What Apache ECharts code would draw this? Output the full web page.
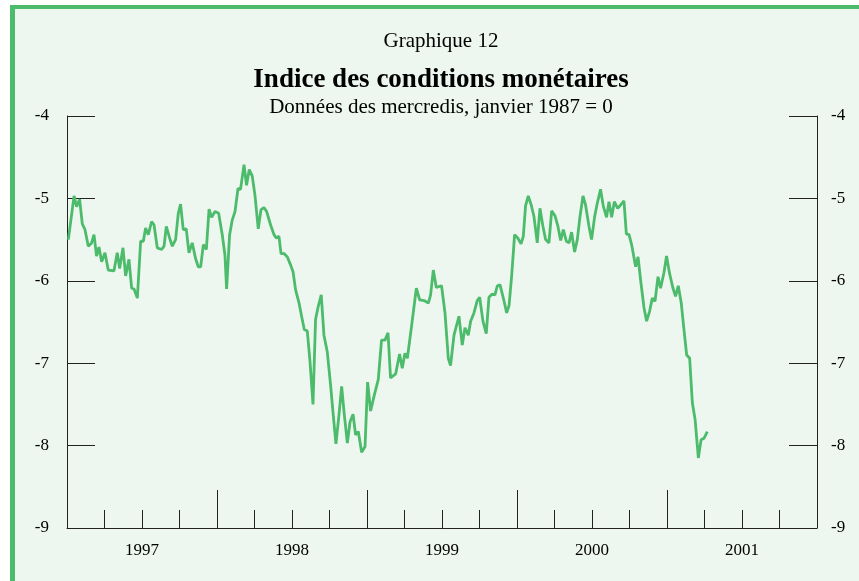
<!DOCTYPE html>
<html>
<head>
<meta charset="utf-8">
<script src="https://cdn.jsdelivr.net/npm/echarts@6/dist/echarts.min.js"></script>
<style>
	html, body { margin: 0; padding: 0; background: #ffffff; }
	#frame {
		position: absolute; left: 10px; top: 5px; width: 900px; height: 620px;
		border: 4px solid #4cbb6b; border-left-width: 5px; background: #edf7ef;
	}
	#chart { position: absolute; left: 0; top: 0; width: 859px; height: 581px; }
</style>
</head>
<body>
<div id="frame"></div>
<div id="chart"></div>
<script>
'use strict';
/**
 * Graphique 12 - Indice des conditions monétaires
 * données hebdomadaires (mercredis), date en année décimale
 */
var dates = [
	1997.009, 1997.047, 1997.064, 1997.084, 1997.102, 1997.120, 1997.142, 1997.164, 1997.180, 1997.197,
	1997.213, 1997.231, 1997.253, 1997.275, 1997.313, 1997.335, 1997.351, 1997.373, 1997.391, 1997.413,
	1997.431, 1997.447, 1997.469, 1997.491, 1997.509, 1997.524, 1997.542, 1997.564, 1997.580, 1997.602,
	1997.631, 1997.647, 1997.662, 1997.684, 1997.702, 1997.724, 1997.742, 1997.757, 1997.775, 1997.795,
	1997.813, 1997.835, 1997.857, 1997.875, 1997.891, 1997.909, 1997.929, 1997.947, 1997.964, 1997.987,
	1998.011, 1998.035, 1998.053, 1998.064, 1998.084, 1998.102, 1998.120, 1998.140, 1998.157, 1998.180,
	1998.197, 1998.215, 1998.235, 1998.253, 1998.275, 1998.293, 1998.313, 1998.331, 1998.357, 1998.380,
	1998.395, 1998.413, 1998.427, 1998.447, 1998.469, 1998.491, 1998.507, 1998.524, 1998.547, 1998.564,
	1998.582, 1998.602, 1998.620, 1998.640, 1998.657, 1998.675, 1998.695, 1998.713, 1998.735, 1998.757,
	1998.775, 1998.793, 1998.813, 1998.831, 1998.849, 1998.869, 1998.887, 1998.907, 1998.924, 1998.942,
	1998.964, 1998.987, 1999.004, 1999.024, 1999.047, 1999.075, 1999.097, 1999.120, 1999.140, 1999.157,
	1999.191, 1999.217, 1999.235, 1999.253, 1999.269, 1999.297, 1999.329, 1999.351, 1999.380, 1999.409,
	1999.424, 1999.442, 1999.462, 1999.497, 1999.520, 1999.542, 1999.557, 1999.580, 1999.613, 1999.635,
	1999.653, 1999.675, 1999.691, 1999.713, 1999.735, 1999.751, 1999.773, 1999.795, 1999.813, 1999.835,
	1999.853, 1999.869, 1999.887, 1999.913, 1999.931, 1999.947, 1999.964, 1999.984, 2000.005, 2000.027,
	2000.042, 2000.057, 2000.075, 2000.095, 2000.113, 2000.135, 2000.153, 2000.173, 2000.191, 2000.213,
	2000.231, 2000.253, 2000.273, 2000.291, 2000.309, 2000.329, 2000.347, 2000.364, 2000.384, 2000.402,
	2000.420, 2000.440, 2000.457, 2000.480, 2000.497, 2000.517, 2000.535, 2000.557, 2000.575, 2000.597,
	2000.613, 2000.631, 2000.649, 2000.671, 2000.691, 2000.713, 2000.729, 2000.747, 2000.764, 2000.791,
	2000.807, 2000.824, 2000.847, 2000.864, 2000.884, 2000.902, 2000.920, 2000.940, 2000.957, 2000.980,
	2000.997, 2001.017, 2001.040, 2001.057, 2001.075, 2001.095, 2001.113, 2001.131, 2001.151, 2001.169,
	2001.187, 2001.209, 2001.227, 2001.247, 2001.269
];
var mci = [
	-5.50, -4.97, -5.10, -5.01, -5.31, -5.38, -5.58, -5.54, -5.44, -5.70,
	-5.59, -5.77, -5.66, -5.87, -5.88, -5.66, -5.85, -5.60, -5.94, -5.74,
	-6.09, -6.10, -6.21, -5.52, -5.52, -5.36, -5.44, -5.28, -5.32, -5.60,
	-5.62, -5.58, -5.34, -5.48, -5.58, -5.50, -5.18, -5.07, -5.38, -5.37,
	-5.66, -5.54, -5.73, -5.83, -5.83, -5.56, -5.62, -5.13, -5.23, -5.16,
	-5.18, -5.44, -5.69, -6.10, -5.44, -5.26, -5.16, -4.88, -4.89, -4.59,
	-4.84, -4.65, -4.73, -4.96, -5.37, -5.14, -5.11, -5.16, -5.32, -5.44,
	-5.48, -5.46, -5.67, -5.67, -5.71, -5.81, -5.89, -6.11, -6.27, -6.43,
	-6.59, -6.61, -6.98, -7.50, -6.47, -6.31, -6.17, -6.66, -6.86, -7.26,
	-7.63, -7.98, -7.63, -7.28, -7.63, -7.97, -7.71, -7.62, -7.87, -7.83,
	-8.08, -8.01, -7.23, -7.58, -7.40, -7.20, -6.72, -6.72, -6.63, -7.18,
	-7.13, -6.89, -7.06, -6.88, -6.94, -6.55, -6.09, -6.23, -6.24, -6.27,
	-6.17, -5.87, -6.08, -6.06, -6.39, -6.94, -7.03, -6.66, -6.43, -6.78,
	-6.57, -6.66, -6.49, -6.39, -6.24, -6.20, -6.49, -6.64, -6.20, -6.16,
	-6.17, -6.06, -6.05, -6.24, -6.39, -6.30, -5.95, -5.44, -5.48, -5.55,
	-5.46, -5.09, -4.97, -5.08, -5.22, -5.54, -5.12, -5.34, -5.50, -5.54,
	-5.15, -5.21, -5.34, -5.51, -5.38, -5.52, -5.54, -5.41, -5.65, -5.50,
	-5.22, -4.97, -5.08, -5.34, -5.50, -5.23, -5.06, -4.89, -5.09, -5.23,
	-5.04, -5.23, -5.04, -5.12, -5.08, -5.03, -5.43, -5.44, -5.56, -5.83,
	-5.71, -5.99, -6.33, -6.49, -6.37, -6.21, -6.25, -5.95, -6.09, -5.90,
	-5.70, -5.91, -6.09, -6.19, -6.06, -6.27, -6.59, -6.90, -6.94, -7.48,
	-7.68, -8.15, -7.93, -7.91, -7.83
];
var yTicks = [-9, -8, -7, -6, -5, -4];

var titleText = 'Graphique 12';
var mainTitle = 'Indice des conditions monétaires';
var subTitle = 'Données des mercredis, janvier 1987 = 0';

var serif = '"Liberation Serif", "DejaVu Serif", serif';
var inkColor = '#222';
var lineColor = '#4cbb6b';

var points = dates.map(function (d, i) { return [d, mci[i]]; });

var myChart = echarts.init(document.getElementById('chart'), null, { renderer: 'canvas' });

function yAxisDef(pos, margin) {
	return {
		type: 'value',
		position: pos,
		min: yTicks[0],
		max: yTicks[yTicks.length - 1],
		interval: 1,
		axisLine: { show: true, lineStyle: { color: inkColor, width: 1 } },
		axisTick: { show: true, inside: true, length: 28, lineStyle: { color: inkColor, width: 1 } },
		axisLabel: { margin: margin, color: '#000', fontFamily: serif, fontSize: 17 },
		splitLine: { show: false }
	};
}

var option = {
	animation: false,
	backgroundColor: 'transparent',
	title: [{
		text: titleText,
		left: 436, top: 26, textAlign: 'center',
		textStyle: { fontFamily: serif, fontSize: 21, fontWeight: 'normal', color: '#000' }
	}, {
		text: mainTitle,
		left: 436, top: 62, textAlign: 'center',
		textStyle: { fontFamily: serif, fontSize: 27, fontWeight: 'bold', color: '#000' }
	}, {
		text: subTitle,
		left: 436, top: 92, textAlign: 'center',
		textStyle: { fontFamily: serif, fontSize: 21, fontWeight: 'normal', color: '#000' }
	}],
	grid: { left: 67, right: 42, top: 116, height: 412, containLabel: false },
	xAxis: [{
		type: 'value',
		position: 'bottom',
		min: 1997, max: 2002, interval: 0.25,
		axisLine: { show: true, onZero: false, lineStyle: { color: inkColor, width: 1 } },
		axisTick: { show: true, inside: true, length: 18, lineStyle: { color: inkColor, width: 1 } },
		axisLabel: {
			margin: 14, color: '#000', fontFamily: serif, fontSize: 17,
			showMinLabel: true, showMaxLabel: true,
			formatter: function (v) {
				return Math.abs(v - Math.floor(v) - 0.5) < 1e-6 ? String(Math.floor(v)) : '';
			}
		},
		splitLine: { show: false }
	}, {
		type: 'value',
		position: 'bottom',
		min: 1997, max: 2002, interval: 1,
		axisLine: { show: false, onZero: false },
		axisTick: { show: true, inside: true, length: 38, lineStyle: { color: inkColor, width: 1 } },
		axisLabel: { show: false },
		splitLine: { show: false }
	}],
	yAxis: [yAxisDef('left', 18), yAxisDef('right', 14)],
	series: [{
		name: 'ICM',
		type: 'line',
		xAxisIndex: 0,
		yAxisIndex: 0,
		data: points,
		showSymbol: false,
		lineStyle: { color: lineColor, width: 2.8 },
		itemStyle: { color: lineColor }
	}]
};
myChart.setOption(option);
</script>
</body>
</html>
